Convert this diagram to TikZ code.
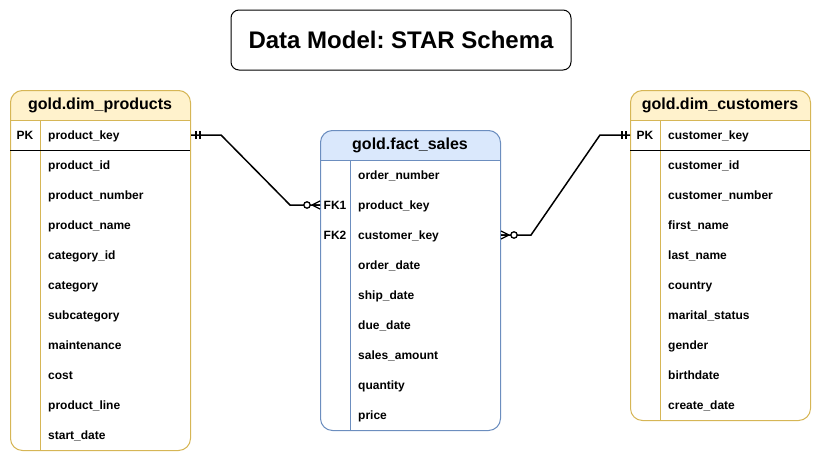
\documentclass[tikz,border=0pt]{standalone}
\usepackage{fontspec}
\setmainfont{Liberation Sans}
\frenchspacing
\usetikzlibrary{calc}
\definecolor{yfill}{HTML}{FFF2CC}
\definecolor{ystroke}{HTML}{D6B656}
\definecolor{bfill}{HTML}{DAE8FC}
\definecolor{bstroke}{HTML}{6C8EBF}
\begin{document}
\begin{tikzpicture}[x=1pt,y=-1pt,
  row/.style={anchor=west,inner sep=0pt,text height=8.5pt,text depth=2.5pt,font=\fontsize{12}{14}\selectfont\bfseries},
  keylbl/.style={anchor=center,inner sep=0pt,text height=8.5pt,text depth=2.5pt,font=\fontsize{12}{14}\selectfont\bfseries},
  hdr/.style={inner sep=0pt,text height=11.5pt,text depth=3.5pt,font=\fontsize{16}{19}\selectfont\bfseries},
  tbl/.style={draw=#1,rounded corners=12pt,line width=1pt,inner sep=0pt,anchor=north west,minimum width=180pt},
  conn/.style={line width=1.5pt,black},
  erm/.style={line width=1.3pt,black},
]
\useasboundingbox (0,0) rectangle (821,461);

% title
\node[draw,rounded corners=8pt,line width=1pt,minimum width=340pt,minimum height=60pt,
      font=\fontsize{24}{28}\selectfont\bfseries] (title) at (401,40) {Data Model: STAR Schema};

% header fills
\begin{scope}
  \clip (10,90) rectangle (190,120);
  \fill[yfill,rounded corners=12pt] (10,90) rectangle (190,450);
\end{scope}
\begin{scope}
  \clip (320,130) rectangle (500,160);
  \fill[bfill,rounded corners=12pt] (320,130) rectangle (500,430);
\end{scope}
\begin{scope}
  \clip (630,90) rectangle (810,120);
  \fill[yfill,rounded corners=12pt] (630,90) rectangle (810,420);
\end{scope}

% tables
\node[tbl=ystroke,minimum height=360pt] (prod) at (10,90) {};
\node[tbl=bstroke,minimum height=300pt] (fact) at (320,130) {};
\node[tbl=ystroke,minimum height=330pt] (cust) at (630,90) {};

% inner lines
\draw[ystroke,line width=1pt] (10,120) -- (190,120) (40,120) -- (40,450);
\draw[black,line width=1pt] (10,150) -- (190,150);
\draw[bstroke,line width=1pt] (320,160) -- (500,160) (350,160) -- (350,430);
\draw[ystroke,line width=1pt] (630,120) -- (810,120) (660,120) -- (660,420);
\draw[black,line width=1pt] (630,150) -- (810,150);

% headers
\node[hdr] (hprod) at (100,105.5) {gold.dim\_products};
\node[hdr] (hfact) at (410,145.5) {gold.fact\_sales};
\node[hdr] (hcust) at (720,105.5) {gold.dim\_customers};

% rows
\foreach \t [count=\i] in {product\_key,product\_id,product\_number,product\_name,category\_id,category,subcategory,maintenance,cost,product\_line,start\_date}
  \node[row] (p\i) at (48,{136+30*(\i-1)}) {\t};
\foreach \t [count=\i] in {order\_number,product\_key,customer\_key,order\_date,ship\_date,due\_date,sales\_amount,quantity,price}
  \node[row] (f\i) at (358,{176+30*(\i-1)}) {\t};
\foreach \t [count=\i] in {customer\_key,customer\_id,customer\_number,first\_name,last\_name,country,marital\_status,gender,birthdate,create\_date}
  \node[row] (c\i) at (668,{136+30*(\i-1)}) {\t};

% keys
\node[keylbl] (pkp) at (25,136) {PK};
\node[keylbl] (fk1) at (335,206) {FK1};
\node[keylbl] (fk2) at (335,236) {FK2};
\node[keylbl] (pkc) at (645,136) {PK};

% endpoints
\coordinate (A) at ($(prod.east |- pkp)+(0,-1)$);
\coordinate (B) at ($(fact.west |- fk1)+(0,-1)$);
\coordinate (C) at ($(fact.east |- fk2)+(0,-1)$);
\coordinate (D) at ($(cust.west |- pkc)+(0,-1)$);

% connectors
\draw[conn] (A) -- ++(30,0) -- ($(B)+(-30,0)$) -- (B);
\draw[conn] (C) -- ++(30,0) -- ($(D)+(-30,0)$) -- (D);

% markers: one (mandatory)
\draw[erm] ($(A)+(5,-4)$) -- ++(0,8) ($(A)+(9,-4)$) -- ++(0,8);
\draw[erm] ($(D)+(-8,-4)$) -- ++(0,8) ($(D)+(-4,-4)$) -- ++(0,8);
% markers: zero or many
\draw[erm] ($(B)+(-8,0)$) -- ($(B)+(0,-4)$) ($(B)+(-8,0)$) -- (B) ($(B)+(-8,0)$) -- ($(B)+(0,4)$);
\draw[erm,fill=white] ($(B)+(-13,0)$) circle (3.2);
\draw[erm] ($(C)+(8,0)$) -- ($(C)+(0,-4)$) ($(C)+(8,0)$) -- (C) ($(C)+(8,0)$) -- ($(C)+(0,4)$);
\draw[erm,fill=white] ($(C)+(13,0)$) circle (3.2);
\end{tikzpicture}
\end{document}
